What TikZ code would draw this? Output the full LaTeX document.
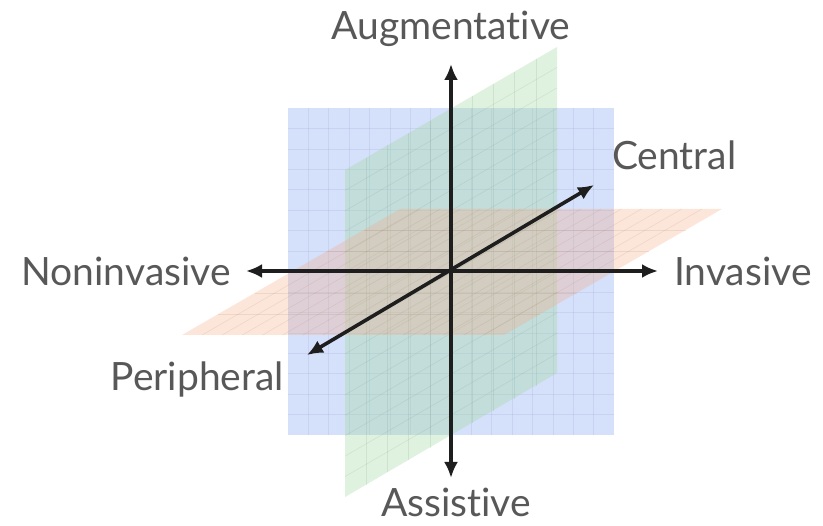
\documentclass[tikz,border=0pt]{standalone}
\usepackage{fontspec}
\setmainfont[Ligatures={NoCommon}]{Lato}
\usetikzlibrary{arrows.meta}
\definecolor{txtgray}{RGB}{88,88,88}
\definecolor{pblue}{RGB}{150,178,245}
\definecolor{pgreen}{RGB}{160,215,160}
\definecolor{porange}{RGB}{245,170,130}
\definecolor{axisc}{RGB}{30,30,30}
\tikzset{
  lbl/.style={text=txtgray, font=\fontsize{39}{47}\selectfont, inner sep=0pt},
  axisline/.style={draw=axisc, line width=3.6pt, {Latex[length=16pt,width=14pt]}-{Latex[length=16pt,width=14pt]}},
  gridline/.style={line width=0.6pt, opacity=0.13},
}
\begin{document}
\begin{tikzpicture}[x=1pt,y=-1pt]
\useasboundingbox (0,0) rectangle (823,526);
% blue plane
\fill[pblue, opacity=0.40] (288,108) rectangle (614,435);
\foreach \i in {1,...,15} {
  \draw[gridline, draw=pblue!70!black] ({288+\i*326/16},108) -- ({288+\i*326/16},435);
  \draw[gridline, draw=pblue!70!black] (288,{108+\i*327/16}) -- (614,{108+\i*327/16});
}
% green plane
\fill[pgreen, opacity=0.34] (345,170) -- (557,47) -- (557,373) -- (345,497) -- cycle;
\foreach \i in {1,...,9} {
  \draw[gridline, draw=pgreen!60!black] ({345+\i*212/10},{170-\i*123/10}) -- ({345+\i*212/10},{497-\i*123/10});
}
\foreach \i in {1,...,15} {
  \draw[gridline, draw=pgreen!60!black] (345,{170+\i*327/16}) -- (557,{47+\i*327/16});
}
% orange plane
\fill[porange, opacity=0.30] (182,335) -- (504,335) -- (722,209) -- (400,209) -- cycle;
\foreach \i in {1,...,5} {
  \draw[gridline, draw=porange!60!black] ({400-\i*218/6},{209+\i*126/6}) -- ({722-\i*218/6},{209+\i*126/6});
}
\foreach \i in {1,...,15} {
  \draw[gridline, draw=porange!60!black] ({400+\i*322/16},209) -- ({182+\i*322/16},335);
}
% axes
\coordinate (O) at (451,271);
\coordinate (up) at (451,64);
\coordinate (down) at (451,478);
\coordinate (left) at (246,271);
\coordinate (right) at (658,271);
\coordinate (cen) at (594,185);
\coordinate (per) at (307,355);
\draw[axisline] (down) -- (up);
\draw[axisline] (left) -- (right);
\draw[axisline] (per) -- (cen);
% labels
\node[lbl, anchor=base] (aug) at (451,40) {Augmentative};
\node[lbl, anchor=base] (ass) at (456,517) {Assistive};
\node[lbl, anchor=base east] (non) at (231,286) {Noninvasive};
\node[lbl, anchor=base west] (inv) at (674,286) {Invasive};
\node[lbl, anchor=base west] (cenl) at (612,170) {Central};
\node[lbl, anchor=base east] (perl) at (284,391) {Peripheral};
\end{tikzpicture}
\end{document}
